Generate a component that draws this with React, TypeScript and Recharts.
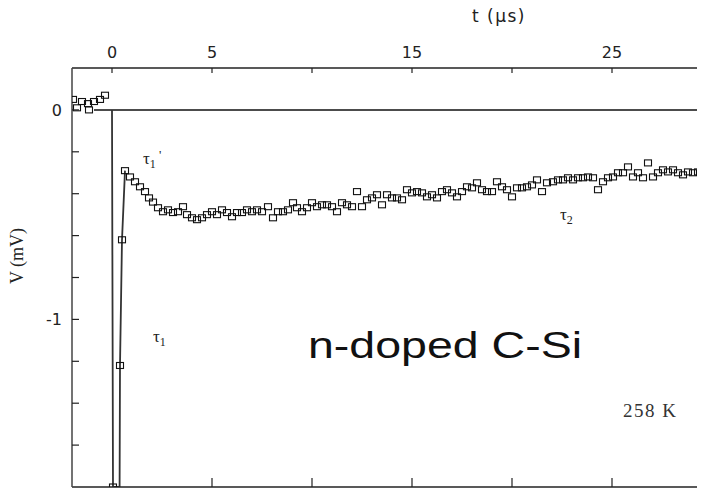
import { ComposedChart, Scatter, Line, XAxis, YAxis, ReferenceLine } from 'recharts';

// baseline before the pulse (t in µs, V in mV)
const preT = [-1.95, -1.75, -1.5, -1.2, -1.15, -0.9, -0.6, -0.35];
const preV = [0.05, 0.01, 0.04, 0.03, 0.0, 0.04, 0.05, 0.07];

// fast drop and rebound squares
const jumpT = [0.05, 0.4, 0.5, 0.65];
const jumpV = [-1.8, -1.22, -0.62, -0.29];

// connecting trace through the drop (corner at the floor before the rebound)
const traceT = [0, 0.05, 0.38, 0.4, 0.5, 0.65];
const traceV = [0, -1.8, -1.8, -1.22, -0.62, -0.29];

// slow relaxation
const decayT = [
  0.9, 1.15, 1.4, 1.65, 1.85, 2.05, 2.3, 2.55, 2.8, 3.05, 3.3, 3.55, 3.75, 4.0, 4.25, 4.5, 4.75, 5.0,
  5.25, 5.5, 5.75, 6.0, 6.25, 6.5, 6.75, 7.0, 7.25, 7.5, 7.8, 8.05, 8.3, 8.55, 8.8, 9.05, 9.25, 9.5,
  9.75, 10.0, 10.25, 10.5, 10.75, 11.0, 11.25, 11.5, 11.75, 12.0, 12.25, 12.5, 12.75, 13.0, 13.25,
  13.5, 13.75, 14.0, 14.25, 14.5, 14.75, 15.0, 15.25, 15.5, 15.75, 16.0, 16.25, 16.5, 16.75, 17.0,
  17.25, 17.5, 17.75, 18.0, 18.25, 18.5, 18.75, 19.0, 19.25, 19.5, 19.75, 20.0, 20.25, 20.5, 20.75,
  21.0, 21.25, 21.5, 21.75, 22.05, 22.3, 22.55, 22.8, 23.05, 23.3, 23.55, 23.8, 24.05, 24.3, 24.55,
  24.8, 25.05, 25.3, 25.55, 25.8, 26.05, 26.3, 26.55, 26.8, 27.05, 27.3, 27.55, 27.8, 28.05, 28.3,
  28.55, 28.8, 29.05, 29.3, 29.55,
];
const decayV = [
  -0.32, -0.343, -0.367, -0.39, -0.42, -0.44, -0.467, -0.486, -0.477, -0.49, -0.486, -0.462, -0.5,
  -0.515, -0.524, -0.515, -0.5, -0.486, -0.5, -0.477, -0.49, -0.51, -0.49, -0.49, -0.477, -0.486,
  -0.477, -0.486, -0.462, -0.515, -0.486, -0.486, -0.477, -0.443, -0.467, -0.486, -0.467, -0.443,
  -0.462, -0.453, -0.453, -0.462, -0.486, -0.443, -0.453, -0.462, -0.39, -0.462, -0.429, -0.42,
  -0.405, -0.453, -0.405, -0.42, -0.42, -0.429, -0.381, -0.396, -0.39, -0.396, -0.415, -0.405,
  -0.42, -0.39, -0.381, -0.396, -0.415, -0.39, -0.367, -0.372, -0.348, -0.381, -0.39, -0.39,
  -0.343, -0.367, -0.381, -0.415, -0.372, -0.372, -0.367, -0.358, -0.334, -0.39, -0.348, -0.343,
  -0.334, -0.334, -0.324, -0.334, -0.324, -0.324, -0.32, -0.324, -0.381, -0.343, -0.324, -0.32,
  -0.3, -0.3, -0.272, -0.32, -0.3, -0.324, -0.253, -0.32, -0.3, -0.286, -0.296, -0.286, -0.3,
  -0.31, -0.296, -0.3, -0.296, -0.3,
];

const topTicks = [0, 5, 10, 15, 20, 25];
const topLabels = [0, 5, 15, 25];
const bottomTicks = [5, 10, 15, 20, 25];
const yTicks = [0, -0.2, -0.4, -0.6, -0.8, -1, -1.2, -1.4, -1.6];
const yLabels = [0, -1];

const zip = (ts: number[], vs: number[]) => ts.map((t, i) => ({ t, v: vs[i] }));
const squares = [...zip(preT, preV), ...zip(jumpT, jumpV), ...zip(decayT, decayV)];
const trace = zip(traceT, traceV);

const tickFont = '"DejaVu Sans", sans-serif';
const serif = '"Liberation Serif", "Times New Roman", serif';

function Square(props: any) {
  const { cx, cy } = props;
  if (cx == null || cy == null) return null;
  return <rect x={cx - 3.5} y={cy - 3} width={7} height={6} fill="none" stroke="#111" strokeWidth={1.1} />;
}

function TopTick(props: any) {
  const { x, y, payload } = props;
  return (
    <g>
      <line x1={x} y1={y} x2={x} y2={y + 5} stroke="#222" strokeWidth={1.2} />
      {topLabels.includes(payload.value) && (
        <text x={x} y={y - 10} textAnchor="middle" fontFamily={tickFont} fontSize={16} fill="#222">
          {payload.value}
        </text>
      )}
    </g>
  );
}

function BottomTick(props: any) {
  const { x, y } = props;
  return <line x1={x} y1={y} x2={x} y2={y - 9} stroke="#222" strokeWidth={1.2} />;
}

function LeftTick(props: any) {
  const { x, y, payload } = props;
  const v = Math.round(payload.value * 10) / 10;
  return (
    <g>
      <line x1={x} y1={y} x2={x + 7} y2={y} stroke="#222" strokeWidth={1.2} />
      {yLabels.includes(v) && (
        <text x={x - 10} y={y} dy="0.35em" textAnchor="end" fontFamily={tickFont} fontSize={16} fill="#222">
          {v}
        </text>
      )}
    </g>
  );
}

export default function App() {
  return (
    <div style={{ position: 'relative', width: 705, height: 497, overflow: 'hidden', margin: -8, background: '#fff' }}>
      <ComposedChart
        width={720}
        height={489}
        margin={{ top: 67, right: 8, bottom: 1, left: 71 }}
        data={squares}
      >
        <XAxis
          xAxisId="top"
          orientation="top"
          type="number"
          dataKey="t"
          domain={[-2, 30]}
          allowDataOverflow
          ticks={topTicks}
          height={1}
          tickSize={0}
          tickMargin={0}
          tickLine={false}
          tick={<TopTick />}
          axisLine={{ stroke: '#222', strokeWidth: 1.5 }}
          interval={0}
        />
        <XAxis
          xAxisId="bottom"
          orientation="bottom"
          type="number"
          dataKey="t"
          domain={[-2, 30]}
          allowDataOverflow
          ticks={bottomTicks}
          height={1}
          tickSize={0}
          tickMargin={0}
          tickLine={false}
          tick={<BottomTick />}
          axisLine={{ stroke: '#222', strokeWidth: 1.5 }}
          interval={0}
        />
        <YAxis
          type="number"
          dataKey="v"
          domain={[-1.8, 0.2]}
          allowDataOverflow
          ticks={yTicks}
          width={1}
          tickSize={0}
          tickMargin={0}
          tickLine={false}
          tick={<LeftTick />}
          axisLine={{ stroke: '#444', strokeWidth: 1.5 }}
          interval={0}
        />
        <ReferenceLine
          xAxisId="top"
          segment={[{ x: -0.9, y: 0 }, { x: 30, y: 0 }]}
          stroke="#111"
          strokeWidth={1.5}
          ifOverflow="visible"
        />
        <Line
          xAxisId="top"
          data={trace}
          dataKey="v"
          type="linear"
          stroke="#333"
          strokeWidth={1.8}
          dot={false}
          isAnimationActive={false}
        />
        <Scatter
          xAxisId="top"
          data={squares}
          dataKey="v"
          shape={<Square />}
          isAnimationActive={false}
        />
      </ComposedChart>

      <svg
        width={705}
        height={489}
        style={{ position: 'absolute', left: 0, top: 0, pointerEvents: 'none' }}
      >
        <text x={472} y={22} fontFamily={tickFont} fontSize={17} letterSpacing={1.5} fill="#222">
          t (µs)
        </text>
        <text
          x={0}
          y={0}
          transform="translate(23 256) rotate(-90)"
          textAnchor="middle"
          fontFamily={serif}
          fontSize={18}
          fill="#222"
        >
          V (mV)
        </text>
        <text x={143} y={164} fontFamily={serif} fontSize={17} fill="#222">
          τ<tspan dy={4} fontSize={12}>1</tspan>
          <tspan dy={-9} fontSize={13}> '</tspan>
        </text>
        <text x={153} y={342} fontFamily={serif} fontSize={17} fill="#222">
          τ<tspan dy={4} fontSize={12}>1</tspan>
        </text>
        <text x={560} y={220} fontFamily={serif} fontSize={17} fill="#222">
          τ<tspan dy={4} fontSize={12}>2</tspan>
        </text>
        <text
          x={308}
          y={358}
          fontFamily='"Liberation Sans", Arial, sans-serif'
          fontSize={37}
          textLength={274}
          lengthAdjust="spacingAndGlyphs"
          fill="#111"
        >
          n-doped C-Si
        </text>
        <text x={623} y={417} fontFamily={serif} fontSize={19} letterSpacing={1.5} fill="#333">
          258 K
        </text>
      </svg>
    </div>
  );
}
